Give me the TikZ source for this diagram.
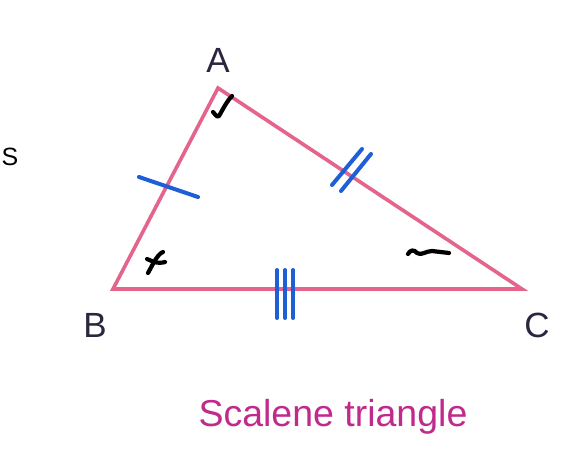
\documentclass[tikz,border=0pt]{standalone}
\usepackage{fontspec}
\setmainfont{Liberation Sans}
\definecolor{tri}{HTML}{E5648C}
\definecolor{tick}{HTML}{1E5FD8}
\definecolor{lab}{HTML}{2C2540}
\definecolor{title}{HTML}{C02A8C}
\tikzset{
  side/.style={draw=tri, line width=3.6pt, line join=miter},
  tickmark/.style={draw=tick, line width=4pt, line cap=round},
  inkmark/.style={draw=black, line width=4.2pt, line cap=round, line join=round},
  vlabel/.style={text=lab, font=\fontsize{35}{38}\selectfont, inner sep=0pt}
}
\begin{document}
\begin{tikzpicture}[x=1pt,y=-1pt]
\useasboundingbox (0,0) rectangle (571,453);
\fill[white] (0,0) rectangle (571,453);
% vertices
\coordinate (A) at (218,88);
\coordinate (B) at (113,289);
\coordinate (C) at (522,289);
\draw[side] (A) -- (B) -- (C) -- cycle;
% labels
\node[vlabel] (lA) at (218,60) {A};
\node[vlabel] (lB) at (95,325) {B};
\node[vlabel] (lC) at (537,325) {C};
\node[text=black, font=\fontsize{25}{28}\selectfont, inner sep=0pt] (lS) at (10,157) {S};
\node[text=title, font=\fontsize{37.5}{40}\selectfont, inner sep=0pt] (title) at (333,417) {Scalene triangle};
% tick marks
\coordinate (t1a) at (139,177); \coordinate (t1b) at (198,197);
\draw[tickmark] (t1a) -- (t1b);
\coordinate (t2a) at (332,185); \coordinate (t2b) at (362,149);
\coordinate (t3a) at (341,191); \coordinate (t3b) at (371,154);
\draw[tickmark] (t2a) -- (t2b);
\draw[tickmark] (t3a) -- (t3b);
\foreach \x/\n in {277/a,285/b,293/c}{
  \coordinate (u\n) at (\x,270); \coordinate (v\n) at (\x,318);
  \draw[tickmark] (u\n) -- (v\n);
}
% hand-drawn angle marks
\draw[inkmark] (213,112) .. controls (215,114) and (217,118) .. (219,116) .. controls (223,109) and (227,101) .. (232,96);
\coordinate (sc) at (154,262);
\draw[inkmark] (148,273) -- (sc) -- (147,259);
\draw[inkmark] (sc) .. controls (157,257) and (160,253) .. (163,252);
\draw[inkmark] (sc) .. controls (158,263) and (162,263) .. (165,262);
\draw[inkmark] (408,254) .. controls (410,250) and (414,249) .. (417,253) .. controls (421,256) and (426,251) .. (432,251) -- (449,253);
\end{tikzpicture}
\end{document}
